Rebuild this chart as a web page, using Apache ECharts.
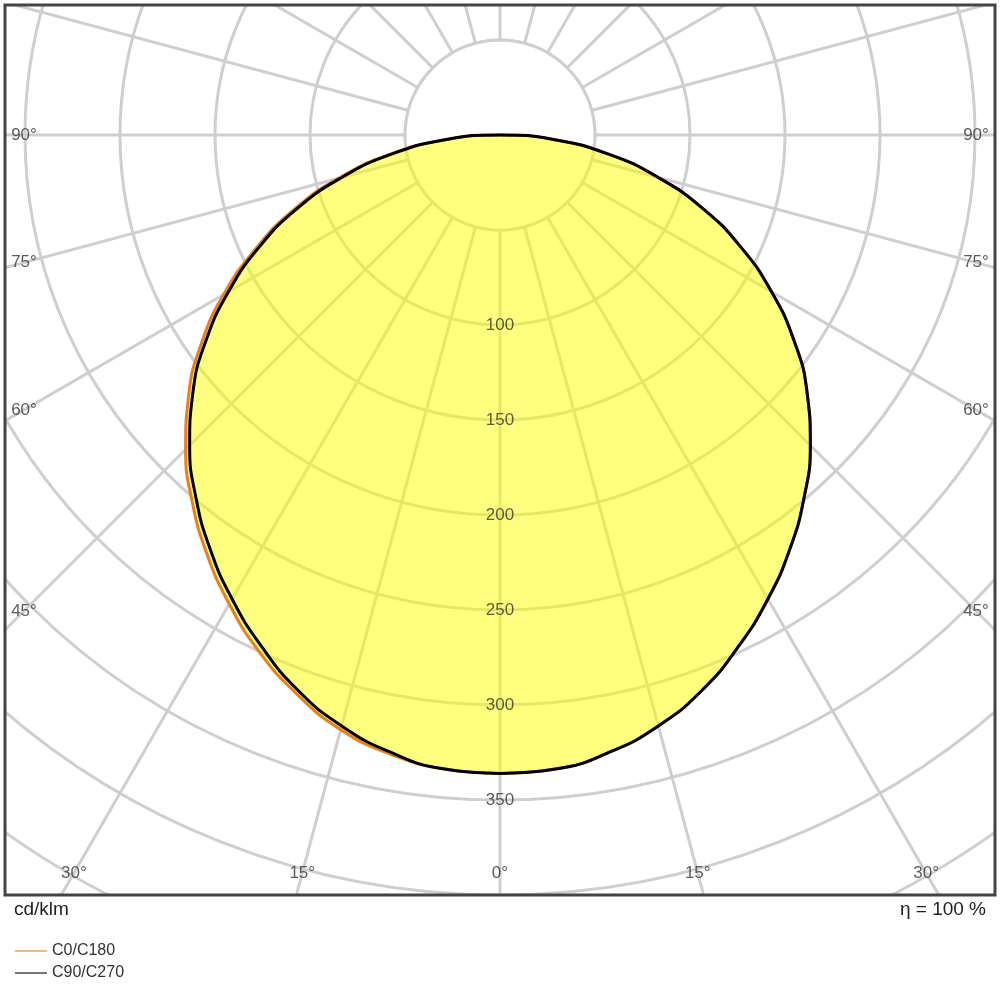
<!DOCTYPE html>
<html>
<head>
<meta charset="utf-8">
<script src="https://cdn.jsdelivr.net/npm/echarts@6/dist/echarts.min.js"></script>
<style>
	html, body {margin: 0; padding: 0; background: #fff;}
	#main {width: 1000px; height: 1000px;}
</style>
</head>
<body>
<div id="main"></div>
<script>
// gamma angles (deg) and intensities (cd/klm)
const gammas = [0, 5, 10, 15, 20, 25, 30, 35, 40, 45, 50, 55, 60, 65, 70, 75, 80, 85, 90];
const c0 = [336, 335, 331, 324, 313, 300, 285, 269, 252, 234, 214, 192, 168, 142, 116, 88, 59, 30, 0];
const c90 = [336, 335, 330, 322, 311, 297, 282, 266, 249, 231, 211, 189, 165, 140, 114, 86, 58, 29, 0];
const radiusTicks = [100, 150, 200, 250, 300, 350];
const angleTicks = [0, 15, 30, 45, 60, 75, 90];

const cx = 500, cy = 135, pxPerCd = 1.9, rMax = 700;
const font = "'Liberation Sans Narrow', 'Liberation Sans', sans-serif";

// left half uses angle g, right half uses 360 - g
function both(left, right) {
	let out = [];
	gammas.forEach((g, i) => out.push([left[i], g]));
	for (let i = gammas.length - 1; i >= 0; i--) out.push([right[i], 360 - gammas[i]]);
	return out;
}

// where each angle label sits: at the frame edge along its ray
function edgeRadius(g) {
	let t = g * Math.PI / 180;
	let rb = Math.cos(t) > 0 ? (873 - cy) / Math.cos(t) : 1e9;
	let rs = Math.sin(t) > 0 ? 476 / Math.sin(t) : 1e9;
	return Math.min(rb, rs) / pxPerCd;
}
let angleLabels = [];
angleTicks.forEach(g => {
	angleLabels.push({value: [edgeRadius(g), g], name: g + '°'});
	if (g > 0) angleLabels.push({value: [edgeRadius(g), 360 - g], name: g + '°'});
});

let disc = [];
for (let a = 0; a <= 360; a += 5) disc.push([50, a]);

let myChart = echarts.init(document.getElementById('main'));
let option = {
	animation: false,
	polar: {center: [cx, cy], radius: rMax * pxPerCd},
	angleAxis: {
		type: 'value', min: 0, max: 360, interval: 15, startAngle: 270, clockwise: true,
		axisLine: {show: false}, axisTick: {show: false}, axisLabel: {show: false},
		splitLine: {show: true, lineStyle: {color: '#cfcfcf', width: 3}}
	},
	radiusAxis: {
		type: 'value', min: 0, max: rMax, interval: 50,
		axisLine: {show: false}, axisTick: {show: false}, axisLabel: {show: false},
		splitLine: {show: true, lineStyle: {color: '#cfcfcf', width: 3}}
	},
	legend: {
		orient: 'vertical', left: 10, top: 938, itemGap: 6, z: 200,
		itemWidth: 32, itemHeight: 2, icon: 'rect',
		textStyle: {fontFamily: font, fontSize: 16, color: '#333'},
		data: [
			{name: 'C0/C180', itemStyle: {color: '#f3b77c'}},
			{name: 'C90/C270', itemStyle: {color: '#777'}}
		]
	},
	graphic: [
		{type: 'rect', z: 100, shape: {x: 0, y: 896, width: 1000, height: 104}, style: {fill: '#fff'}},
		{type: 'rect', z: 100, shape: {x: 0, y: 0, width: 1000, height: 4}, style: {fill: '#fff'}},
		{type: 'rect', z: 100, shape: {x: 0, y: 0, width: 4, height: 900}, style: {fill: '#fff'}},
		{type: 'rect', z: 100, shape: {x: 996, y: 0, width: 4, height: 900}, style: {fill: '#fff'}},
		{type: 'rect', z: 101, shape: {x: 5, y: 5, width: 990, height: 890}, style: {fill: null, stroke: '#444', lineWidth: 3}},
		{type: 'text', z: 101, left: 14, top: 900, style: {text: 'cd/klm', font: '19px ' + font, fill: '#222'}},
		{type: 'text', z: 101, right: 14, top: 900, style: {text: 'η = 100 %', font: '19px ' + font, fill: '#222'}}
	],
	series: [
		{
			name: 'disc', type: 'line', coordinateSystem: 'polar', data: disc, symbol: 'none', z: 1,
			lineStyle: {color: '#cfcfcf', width: 3}, areaStyle: {color: '#fff', opacity: 1}
		},
		{
			name: 'C0/C180', type: 'line', coordinateSystem: 'polar', data: both(c0, c90),
			symbol: 'none', smooth: 0.5, z: 3,
			lineStyle: {color: '#e8801e', width: 3},
			areaStyle: {color: '#ffff00', opacity: 0.5}
		},
		{
			name: 'C90/C270', type: 'line', coordinateSystem: 'polar', data: both(c90, c90),
			symbol: 'none', smooth: 0.5, z: 4,
			lineStyle: {color: '#000', width: 3}
		},
		{
			name: 'rlabels', type: 'scatter', coordinateSystem: 'polar', z: 5, symbolSize: 0,
			data: radiusTicks.map(r => [r, 0]),
			label: {show: true, position: 'inside', formatter: p => p.value[0], fontFamily: font, fontSize: 17, color: '#333'}
		},
		{
			name: 'alabels', type: 'scatter', coordinateSystem: 'polar', z: 5, symbolSize: 0,
			data: angleLabels,
			label: {show: true, position: 'inside', formatter: p => p.name, fontFamily: font, fontSize: 17, color: '#333'}
		}
	]
};
myChart.setOption(option);
</script>
</body>
</html>
